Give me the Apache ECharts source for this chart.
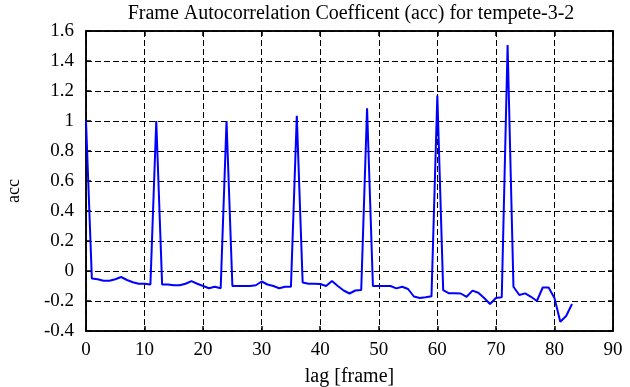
<!DOCTYPE html>
<html><head><meta charset="utf-8">
<script src="https://cdn.jsdelivr.net/npm/echarts@6/dist/echarts.min.js"></script>
<style>html,body{margin:0;padding:0;background:#fff}#c{width:630px;height:387px}</style>
</head><body><div id="c"></div>
<script>
var titleText = 'Frame Autocorrelation Coefficent (acc) for tempete-3-2';
var xName = 'lag [frame]';
var yName = 'acc';
var lags = [];
for (var i = 0; i <= 83; i++) lags.push(i);
var accValues = [
 1.0, -0.05, -0.055, -0.065, -0.065, -0.055, -0.04, -0.06, -0.075, -0.085,
 -0.085, -0.09, 1.0, -0.09, -0.09, -0.095, -0.095, -0.085, -0.067, -0.085,
 -0.1, -0.115, -0.105, -0.115, 1.0, -0.1, -0.1, -0.1, -0.1, -0.095,
 -0.07, -0.09, -0.1, -0.115, -0.105, -0.105, 1.035, -0.077, -0.085, -0.085,
 -0.087, -0.1, -0.067, -0.1, -0.13, -0.15, -0.13, -0.127, 1.085, -0.1,
 -0.1, -0.1, -0.1, -0.116, -0.105, -0.12, -0.17, -0.18, -0.175, -0.169,
 1.169, -0.127, -0.149, -0.149, -0.15, -0.172, -0.131, -0.145, -0.18, -0.22,
 -0.18, -0.175, 1.507, -0.105, -0.16, -0.149, -0.172, -0.2, -0.11, -0.11,
 -0.18, -0.338, -0.3, -0.22
];
var xMin = 0, xMax = 90, xStep = 10;
var yMin = -0.4, yMax = 1.6, yStep = 0.2;

var pts = lags.map(function (x, i) { return [x, accValues[i]]; });
var font = '"Liberation Serif", "Times New Roman", serif';
var chart = echarts.init(document.getElementById('c'));
function mkX(pos, show) {
  return {
    type: 'value', min: xMin, max: xMax, interval: xStep, position: pos,
    axisLine: { show: show, onZero: false, lineStyle: { color: '#000', width: 1.5 } },
    axisTick: { show: true, inside: true, length: 5, lineStyle: { color: '#000', width: 1.5 } },
    axisLabel: { show: pos === 'bottom', color: '#000', fontFamily: font, fontSize: 19, margin: 10 },
    splitLine: { show: pos === 'bottom', lineStyle: { color: '#000', type: [6, 3], width: 1 } },
    name: pos === 'bottom' ? xName : '', nameLocation: 'middle', nameGap: 36,
    nameTextStyle: { color: '#000', fontFamily: font, fontSize: 20 }
  };
}
function mkY(pos, show) {
  return {
    type: 'value', min: yMin, max: yMax, interval: yStep, position: pos,
    axisLine: { show: show, onZero: false, lineStyle: { color: '#000', width: 1.5 } },
    axisTick: { show: true, inside: true, length: 5, lineStyle: { color: '#000', width: 1.5 } },
    axisLabel: { show: pos === 'left', color: '#000', fontFamily: font, fontSize: 19, margin: 12,
      formatter: function (v) { return String(Math.round(v * 10) / 10); } },
    splitLine: { show: pos === 'left', lineStyle: { color: '#000', type: [6, 3], width: 1 } }
  };
}
chart.setOption({
  animation: false,
  title: { text: titleText, left: 346, textAlign: 'center', top: -1,
    textStyle: { fontFamily: font, fontSize: 20, fontWeight: 'normal', color: '#000' } },
  grid: { left: 86, right: 17, top: 31, bottom: 56, show: true, borderColor: '#000', borderWidth: 1.5,
    containLabel: false, outerBoundsMode: 'none' },
  xAxis: [mkX('bottom', true), mkX('top', true)],
  yAxis: [mkY('left', true), mkY('right', true)],
  graphic: [{
    type: 'text', x: 14, y: 191, rotation: Math.PI / 2,
    style: { text: yName, font: '18px ' + font, fill: '#000', align: 'center', verticalAlign: 'middle' }
  }],
  series: [{
    type: 'line', data: pts, xAxisIndex: 0, yAxisIndex: 0, showSymbol: false,
    lineStyle: { color: '#0000ff', width: 2 }
  }]
});
</script></body></html>
